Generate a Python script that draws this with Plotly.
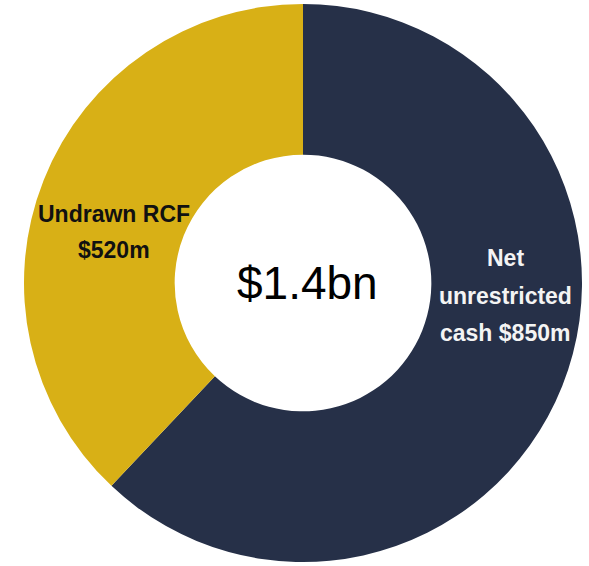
import plotly.graph_objects as go

# Liquidity breakdown
segments = ["Net unrestricted cash", "Undrawn RCF"]
amounts_m = [850, 520]
colors = ["#263048", "#D8B016"]
total_label = "$1.4bn"

W, H = 589, 566


def px(x):
    return x / W


def py(y):
    return 1 - y / H


fig = go.Figure(
    go.Pie(
        labels=segments,
        values=amounts_m,
        sort=False,
        direction="clockwise",
        rotation=0,
        hole=0.46,
        marker=dict(colors=colors, line=dict(width=0)),
        textinfo="none",
        hoverinfo="label+value",
        domain=dict(x=[px(24), px(582)], y=[py(563), py(3)]),
        showlegend=False,
    )
)

label_font = dict(family="Liberation Sans, Arial, sans-serif", size=23)

annotations = []

# Undrawn RCF label (left, dark text)
rcf_lines = ["<b>Undrawn RCF</b>", f"<b>${amounts_m[1]}m</b>"]
for text, yc in zip(rcf_lines, [214, 250]):
    annotations.append(dict(
        x=px(114), y=py(yc), xref="paper", yref="paper",
        text=text, showarrow=False, xanchor="center", yanchor="middle",
        font=dict(color="#111111", **label_font),
    ))

# Net unrestricted cash label (right, white text)
cash_lines = ["<b>Net</b>", "<b>unrestricted</b>", f"<b>cash ${amounts_m[0]}m</b>"]
for text, yc in zip(cash_lines, [258, 296, 333]):
    annotations.append(dict(
        x=px(505), y=py(yc), xref="paper", yref="paper",
        text=text, showarrow=False, xanchor="center", yanchor="middle",
        font=dict(color="#F4F4F4", **label_font),
    ))

# Total in the centre of the ring
annotations.append(dict(
    x=px(307), y=py(283), xref="paper", yref="paper",
    text=total_label, showarrow=False, xanchor="center", yanchor="middle",
    font=dict(family="Liberation Sans, Arial, sans-serif", size=46, color="#000000"),
))

fig.update_layout(
    width=W, height=H,
    margin=dict(l=0, r=0, t=0, b=0),
    paper_bgcolor="white",
    plot_bgcolor="white",
    annotations=annotations,
)

fig.write_html("out.html")
